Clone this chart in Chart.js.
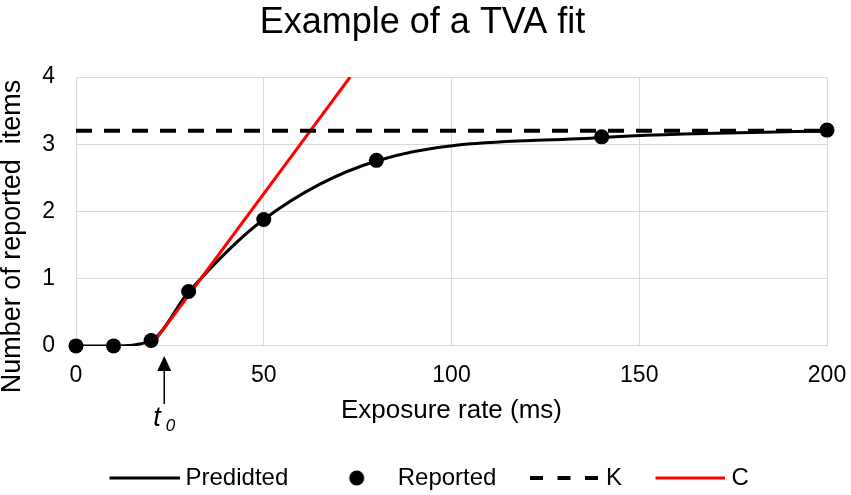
<!DOCTYPE html>
<html>
<head>
<meta charset="utf-8">
<title>Example of a TVA fit</title>
<script src="https://cdn.jsdelivr.net/npm/chart.js@4.4.1/dist/chart.umd.min.js"></script>
<style>
    html, body { margin: 0; padding: 0; background: #fff; }
    #wrap { position: relative; width: 851px; height: 495px; }
</style>
</head>
<body>
<div id="wrap"><canvas id="chartTva"></canvas></div>
<script>
// values
var predictedX = [0, 10, 20, 30, 50, 80, 140, 200];
var predictedY = [0, 0, 0.08, 0.8, 1.88, 2.75, 3.1, 3.2];

var reportedX = [0, 10, 20, 30, 50, 80, 140, 200];
var reportedY = [0, 0, 0.08, 0.81, 1.88, 2.76, 3.11, 3.21];

var kX = [0, 200];
var kY = [3.2, 3.2];

var cX = [20, 73];
var cY = [0, 4];

var seriesNames = ['Predidted', 'Reported', 'K', 'C'];
var xTickValues = [0, 50, 100, 150, 200];
var yTickValues = [0, 1, 2, 3, 4];
var T0_X = 23.5;

(function () {
    'use strict';

    var FONT = "'Liberation Sans', Arial, sans-serif";
    var BLACK = '#000000';
    var RED = '#ff0000';
    var GRID = '#d9d9d9';
    var Y_TITLE = 'Number of reported  items';

    function toPoints(xs, ys) {
        return xs.map(function (x, i) { return { x: x, y: ys[i] }; });
    }

    // small canvases used as legend symbols (70px long, sitting a bit left of centre)
    function legendSymbol(kind) {
        var c = document.createElement('canvas');
        c.width = 72;
        c.height = 16;
        var g = c.getContext('2d');
        if (kind === 'dot') {
            g.fillStyle = BLACK;
            g.beginPath();
            g.arc(37, 8, 7.5, 0, Math.PI * 2);
            g.fill();
            return c;
        }
        g.strokeStyle = kind === 'red' ? RED : BLACK;
        g.lineWidth = kind === 'dash' ? 4 : 3;
        if (kind === 'dash') g.setLineDash([13, 14.5]);
        g.beginPath();
        g.moveTo(2, 8);
        g.lineTo(72, 8);
        g.stroke();
        return c;
    }

    var symbols = [legendSymbol('line'), legendSymbol('dot'), legendSymbol('dash'), legendSymbol('red')];

    // y title (Excel puts it a little below the plot centre) and the t0 arrow
    var extras = {
        id: 'extras',
        afterDraw: function (chart) {
            var ctx = chart.ctx;
            var area = chart.chartArea;
            var px = chart.scales.x.getPixelForValue(T0_X);
            var base = area.bottom;
            ctx.save();
            ctx.fillStyle = BLACK;
            ctx.font = '27px ' + FONT;
            ctx.textAlign = 'center';
            ctx.textBaseline = 'alphabetic';
            ctx.translate(20, (area.top + area.bottom) / 2 + 25);
            ctx.rotate(-Math.PI / 2);
            ctx.fillText(Y_TITLE, 0, 0);
            ctx.restore();

            ctx.save();
            ctx.strokeStyle = BLACK;
            ctx.fillStyle = BLACK;
            ctx.lineWidth = 1.5;
            ctx.beginPath();
            ctx.moveTo(px, base + 58);
            ctx.lineTo(px, base + 22);
            ctx.stroke();
            ctx.beginPath();
            ctx.moveTo(px, base + 10);
            ctx.lineTo(px - 7, base + 25);
            ctx.lineTo(px + 7, base + 25);
            ctx.closePath();
            ctx.fill();
            ctx.textBaseline = 'alphabetic';
            ctx.textAlign = 'left';
            ctx.font = 'italic 27px ' + FONT;
            ctx.fillText('t', px - 11, base + 80);
            ctx.font = 'italic 17px ' + FONT;
            ctx.fillText('0', px + 1.5, base + 85);
            ctx.restore();
        }
    };

    function init() {
        Chart.defaults.font.family = FONT;
        Chart.defaults.color = BLACK;

        new Chart(document.getElementById('chartTva'), {
            type: 'scatter',
            data: {
                datasets: [
                    {
                        label: seriesNames[0],
                        data: toPoints(predictedX, predictedY),
                        showLine: true,
                        borderColor: BLACK,
                        borderWidth: 3,
                        pointRadius: 0,
                        cubicInterpolationMode: 'monotone',
                        order: 4
                    },
                    {
                        label: seriesNames[1],
                        data: toPoints(reportedX, reportedY),
                        showLine: false,
                        backgroundColor: BLACK,
                        borderColor: BLACK,
                        borderWidth: 0,
                        pointRadius: 7.5,
                        clip: false,
                        order: 1
                    },
                    {
                        label: seriesNames[2],
                        data: toPoints(kX, kY),
                        showLine: true,
                        borderColor: BLACK,
                        borderWidth: 4,
                        borderDash: [16, 12],
                        pointRadius: 0,
                        order: 2
                    },
                    {
                        label: seriesNames[3],
                        data: toPoints(cX, cY),
                        showLine: true,
                        borderColor: RED,
                        borderWidth: 3,
                        pointRadius: 0,
                        order: 3
                    }
                ]
            },
            options: {
                responsive: false,
                animation: false,
                devicePixelRatio: 1,
                layout: { padding: { left: 18, right: 24, top: 0, bottom: -5 } },
                plugins: {
                    title: {
                        display: true,
                        text: 'Example of a TVA fit',
                        color: BLACK,
                        font: { size: 36, weight: 'normal' },
                        padding: { top: 1.4, bottom: 32.4 }
                    },
                    legend: {
                        position: 'bottom',
                        align: 'start',
                        fullSize: false,
                        labels: {
                            usePointStyle: true,
                            pointStyleWidth: 60,
                            padding: 37.5,
                            color: BLACK,
                            font: { size: 24 },
                            generateLabels: function (chart) {
                                return chart.data.datasets.map(function (ds, i) {
                                    return {
                                        text: ds.label,
                                        pointStyle: symbols[i],
                                        fillStyle: BLACK,
                                        strokeStyle: BLACK,
                                        lineWidth: 0,
                                        hidden: false,
                                        datasetIndex: i
                                    };
                                });
                            }
                        }
                    },
                    tooltip: { enabled: false }
                },
                scales: {
                    x: {
                        type: 'linear',
                        min: 0,
                        max: 200,
                        afterBuildTicks: function (scale) {
                            scale.ticks = xTickValues.map(function (v) { return { value: v }; });
                        },
                        afterFit: function (scale) {
                            scale.paddingLeft = 0;
                            scale.paddingRight = 0;
                        },
                        grid: { color: GRID, lineWidth: 1, drawTicks: false },
                        border: { color: GRID },
                        ticks: { padding: 16, font: { size: 23 }, color: BLACK },
                        title: {
                            display: true,
                            text: 'Exposure rate (ms)',
                            color: BLACK,
                            font: { size: 26, lineHeight: 1 },
                            padding: { top: -8, bottom: 5 }
                        }
                    },
                    y: {
                        type: 'linear',
                        min: 0,
                        max: 4,
                        afterBuildTicks: function (scale) {
                            scale.ticks = yTickValues.map(function (v) { return { value: v }; });
                        },
                        afterFit: function (scale) { scale.width = 58; },
                        grid: { color: GRID, lineWidth: 1, drawTicks: false },
                        border: { color: GRID },
                        ticks: { padding: 21, font: { size: 23 }, color: BLACK }
                    }
                }
            },
            plugins: [extras]
        });
    }

    var cv = document.getElementById('chartTva');
    cv.width = 851;
    cv.height = 495;

    if (document.readyState === 'loading') {
        document.addEventListener('DOMContentLoaded', init);
    } else {
        init();
    }
})();
</script>
</body>
</html>
